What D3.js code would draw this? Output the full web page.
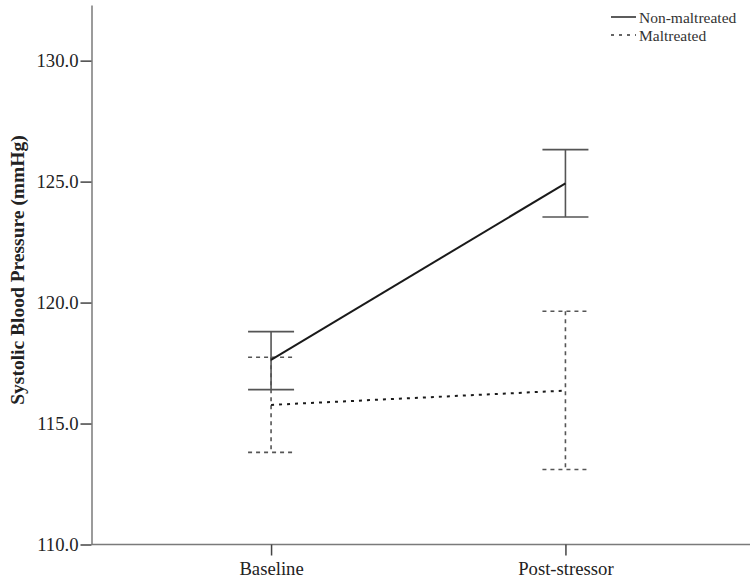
<!DOCTYPE html>
<html><head><meta charset="utf-8">
<script src="https://cdn.jsdelivr.net/npm/d3@7"></script>
<style>body{margin:0;background:#fff}svg{display:block}</style>
</head><body>
<svg id="c" width="750" height="582"></svg>
<script>
const categories = ["Baseline", "Post-stressor"];
const seriesNames = ["Non-maltreated", "Maltreated"];
const nonMeans = [117.63, 124.93];
const nonUpper = [118.80, 126.32];
const nonLower = [116.40, 123.54];
const malMeans = [115.77, 116.36];
const malUpper = [117.74, 119.64];
const malLower = [113.81, 113.10];
const yTicks = [110, 115, 120, 125, 130];
const yTitle = "Systolic Blood Pressure (mmHg)";

(function () {
const series = [
  {name: seriesNames[0], mean: nonMeans, up: nonUpper, lo: nonLower, dash: null, lineColor: "#1a1a1a", lw: 2},
  {name: seriesNames[1], mean: malMeans, up: malUpper, lo: malLower, dash: "4,4", lineColor: "#1a1a1a", lw: 2}
];

const svg = d3.select("#c");
const mLeft = 91.5, mBottom = 544.5, mTop = 5, mRight = 750;
const y = d3.scaleLinear().domain([110, 132.3]).range([mBottom, mTop]);
const x = d3.scalePoint().domain(categories).range([mLeft, 745]).padding(0.61);

const font = "'Liberation Serif','Times New Roman',serif";
const axisColor = "#7a7a7a";

// Y axis
const gy = svg.append("g").attr("transform", `translate(${mLeft},0)`)
  .call(d3.axisLeft(y).tickValues(yTicks).tickFormat(d3.format(".1f")).tickSize(11).tickPadding(2).tickSizeOuter(0));
gy.select(".domain").attr("stroke", axisColor).attr("stroke-width", 1.5);
gy.selectAll(".tick line").attr("stroke", "#444").attr("stroke-width", 1.5);
gy.selectAll(".tick text").attr("font-family", font).attr("font-size", 18.7).attr("fill", "#222");

// X axis
const gx = svg.append("g").attr("transform", `translate(0,${mBottom})`)
  .call(d3.axisBottom(x).tickSize(11).tickPadding(6).tickSizeOuter(0));
gx.select(".domain").attr("d", `M${mLeft},0H${mRight}`).attr("stroke", axisColor).attr("stroke-width", 1.5);
gx.selectAll(".tick line").attr("stroke", "#444").attr("stroke-width", 1.5);
gx.selectAll(".tick text").attr("font-family", font).attr("font-size", 18.7).attr("fill", "#222");

// Y title
svg.append("text")
  .attr("transform", `translate(24,270) rotate(-90)`)
  .attr("text-anchor", "middle")
  .attr("font-family", font).attr("font-weight", "bold").attr("font-size", 19.5).attr("fill", "#222")
  .text(yTitle);

// Error bars
const capHalf = 23;
series.forEach(s => {
  const g = svg.append("g");
  categories.forEach((c, i) => {
    const cx = x(c);
    const attrs = sel => sel.attr("stroke", "#555").attr("stroke-width", 1.6).attr("fill", "none")
      .attr("stroke-dasharray", s.dash);
    g.append("line").attr("x1", cx).attr("x2", cx).attr("y1", y(s.up[i])).attr("y2", y(s.lo[i])).call(attrs);
    g.append("line").attr("x1", cx - capHalf).attr("x2", cx + capHalf).attr("y1", y(s.up[i])).attr("y2", y(s.up[i])).call(attrs);
    g.append("line").attr("x1", cx - capHalf).attr("x2", cx + capHalf).attr("y1", y(s.lo[i])).attr("y2", y(s.lo[i])).call(attrs);
  });
});

// Mean lines
const line = d3.line().x((d, i) => x(categories[i])).y(d => y(d));
series.forEach(s => {
  svg.append("path").datum(s.mean).attr("d", line)
    .attr("fill", "none").attr("stroke", s.lineColor).attr("stroke-width", s.lw)
    .attr("stroke-dasharray", s.dash ? "3,5" : null);
});

// Legend
const lg = svg.append("g");
series.forEach((s, i) => {
  const ly = 17 + i * 18;
  lg.append("line").attr("x1", 611).attr("x2", 636).attr("y1", ly).attr("y2", ly)
    .attr("stroke", "#333").attr("stroke-width", 1.6).attr("stroke-dasharray", s.dash ? "3,5" : null);
  lg.append("text").attr("x", 639).attr("y", ly + 5.5)
    .attr("font-family", font).attr("font-size", 15.5).attr("fill", "#333").text(s.name);
});
})();
</script>
</body></html>
